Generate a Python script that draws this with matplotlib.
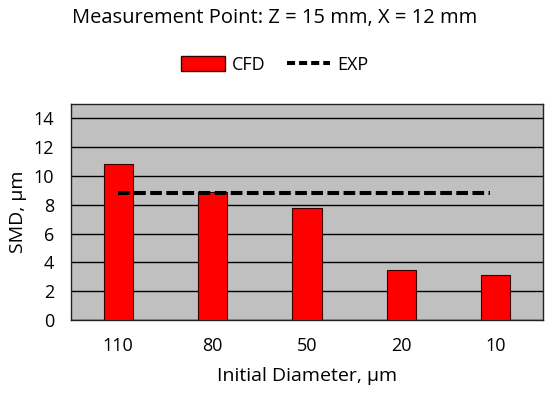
import matplotlib
matplotlib.use("Agg")
import matplotlib.pyplot as plt
from matplotlib.lines import Line2D
from matplotlib.patches import Patch

plt.rcParams['font.family'] = ['Open Sans', 'DejaVu Sans']

categories = ["110", "80", "50", "20", "10"]
cfd = [10.8, 8.9, 7.8, 3.5, 3.1]
exp = [8.8, 8.8, 8.8, 8.8, 8.8]

fig = plt.figure(figsize=(5.5, 3.98), dpi=100)
ax = fig.add_axes([71/550, 1-320/398, 472/550, 216/398])
ax.set_facecolor('#c0c0c0')
x = list(range(len(categories)))
ax.bar(x, cfd, width=0.31, color='#ff0000', edgecolor='#3a0000', linewidth=0.8, zorder=3)
ax.plot([x[0], x[-1] - 0.06], [exp[0], exp[-1]], color='black', linestyle=(0, (2.9, 1.1)), linewidth=2.9, zorder=4)
ax.set_xlim(-0.5, len(categories) - 0.5)
ax.set_ylim(0, 15)
ax.set_yticks(range(0, 15, 2))
ax.set_xticks(x)
ax.set_xticklabels(categories)
ax.yaxis.grid(True, color='black', linewidth=1.0, zorder=0)
ax.set_axisbelow(True)
for s in ax.spines.values():
    s.set_color('#222222')
    s.set_linewidth(1.0)
ax.tick_params(axis='both', length=0, labelsize=13)
ax.tick_params(axis='x', pad=12)
ax.tick_params(axis='y', pad=12)
ax.set_ylabel('SMD, µm', fontsize=14, labelpad=5)
ax.set_xlabel('Initial Diameter, µm', fontsize=14, labelpad=9)

fig.text(0.5, 1-18/398, 'Measurement Point: Z = 15 mm, X = 12 mm', ha='center', va='center', fontsize=14.5)
handles = [Patch(facecolor='#ff0000', edgecolor='#3a0000', label='CFD'),
           Line2D([0], [0], color='black', linestyle=(0, (2, 1)), linewidth=2.9, label='EXP')]
fig.legend(handles=handles, loc='center', bbox_to_anchor=(0.5, 1-65/398), ncol=2, frameon=False,
           fontsize=13, handlelength=2.4, handleheight=0.9, columnspacing=1.2, handletextpad=0.4)
fig.savefig('out.png', dpi=100)
